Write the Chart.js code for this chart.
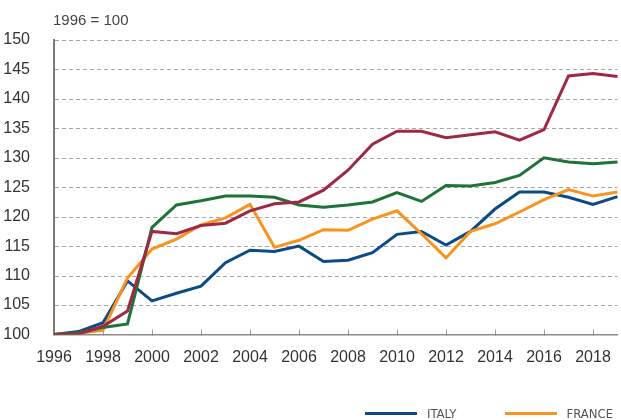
<!DOCTYPE html>
<html lang="en">
<head>
<meta charset="UTF-8">
<title>Index 1996 = 100</title>
<script src="https://cdn.jsdelivr.net/npm/chart.js"></script>
<style>
  html, body { margin: 0; padding: 0; background: #ffffff; overflow: hidden; }
  #wrap { position: relative; width: 621px; height: 420px; }
  #legenda {
    position: absolute; left: 365px; top: 405px;
    display: flex; gap: 48px;
    font-family: "DejaVu Sans Condensed", "Liberation Sans Narrow", sans-serif;
    font-size: 13px; color: #555555;
  }
  #legenda .item { display: flex; align-items: center; height: 17px; line-height: 17px; }
  #legenda .linha { display: inline-block; width: 52px; height: 3px; margin-right: 10px; }
</style>
<script>
  // tick labels / categories
  const anos = ['1996', '1997', '1998', '1999', '2000', '2001', '2002', '2003', '2004', '2005', '2006', '2007',
                '2008', '2009', '2010', '2011', '2012', '2013', '2014', '2015', '2016', '2017', '2018', '2019'];

  // series (1996 = 100)
  const italia = [100, 100.5, 102.0, 109.1, 105.7, 107.0, 108.2, 112.2, 114.3, 114.1, 115.0, 112.4,
                  112.6, 113.9, 117.0, 117.5, 115.2, 117.5, 121.3, 124.2, 124.2, 123.3, 122.1, 123.4];
  const franca = [100, 100.2, 100.7, 109.6, 114.5, 116.2, 118.6, 119.8, 122.1, 114.8, 116.0, 117.8,
                  117.7, 119.6, 121.0, 117.1, 113.0, 117.5, 118.8, 120.8, 122.9, 124.6, 123.5, 124.2];
  const serieVerde = [100, 100.3, 101.2, 101.8, 118.2, 122.0, 122.7, 123.5, 123.5, 123.3, 122.0, 121.6,
                      122.0, 122.5, 124.1, 122.6, 125.3, 125.2, 125.8, 127.0, 130.0, 129.3, 129.0, 129.3];
  const serieVermelha = [100, 100.1, 101.4, 104.0, 117.5, 117.1, 118.5, 118.9, 121.0, 122.2, 122.5, 124.5,
                         127.9, 132.3, 134.5, 134.5, 133.4, 133.9, 134.4, 133.0, 134.8, 143.9, 144.3, 143.8];

  const yMin = 100;
  const yMax = 150;
  const yPasso = 5;
  const rotuloBase = '1996 = 100';
  const legendaVisivel = ['ITALY', 'FRANCE'];

  const fonteEixo = "'Liberation Sans', Arial, sans-serif";

  // dashed horizontal grid, placed with the y scale's own ticks
  const pluginGrade = {
    id: 'gradeTracejada',
    beforeDatasetsDraw(chart) {
      const ctx = chart.ctx;
      const a = chart.chartArea;
      const y = chart.scales.y;
      ctx.save();
      ctx.strokeStyle = '#a6a6a6';
      ctx.lineWidth = 1;
      ctx.setLineDash([4, 3]);
      y.ticks.forEach(t => {
        if (t.value === yMin) return;
        const py = Math.round(y.getPixelForValue(t.value)) + 0.5;
        ctx.beginPath();
        ctx.moveTo(a.left + 1, py);
        ctx.lineTo(a.right, py);
        ctx.stroke();
      });
      ctx.restore();
    }
  };

  // caption above the axis
  const pluginRotulo = {
    id: 'rotuloBase',
    afterDraw(chart) {
      const ctx = chart.ctx;
      ctx.save();
      ctx.font = "15px " + fonteEixo;
      ctx.fillStyle = '#444444';
      ctx.textAlign = 'left';
      ctx.textBaseline = 'middle';
      ctx.fillText(rotuloBase, chart.chartArea.left - 1, 21);
      ctx.restore();
    }
  };

  function desenharGrafico() {
    // first dataset is drawn on top
    const series = [
      { label: 'SERIES 4', data: serieVermelha, borderColor: '#9d2945', borderWidth: 3, pointRadius: 0 },
      { label: 'SERIES 3', data: serieVerde, borderColor: '#1f7338', borderWidth: 3, pointRadius: 0 },
      { label: 'FRANCE', data: franca, borderColor: '#f7931e', borderWidth: 3, pointRadius: 0 },
      { label: 'ITALY', data: italia, borderColor: '#0d4a86', borderWidth: 3, pointRadius: 0 }
    ];

    new Chart(document.getElementById('grafico'), {
      type: 'line',
      data: { labels: anos, datasets: series },
      options: {
        responsive: false,
        animation: false,
        layout: { padding: { top: 40, right: 3.5, left: 0, bottom: 55.5 } },
        plugins: { legend: { display: false }, tooltip: { enabled: false } },
        scales: {
          x: {
            type: 'category',
            offset: false,
            afterFit: s => { s.height = 30; s.paddingLeft = 0; s.paddingRight = 0; },
            border: { color: '#8a8a8a', width: 1.5 },
            grid: {
              drawOnChartArea: false,
              tickLength: -5,
              color: c => (c.index % 2 === 0 ? '#9a9a9a' : 'rgba(0,0,0,0)')
            },
            ticks: {
              autoSkip: false,
              maxRotation: 0,
              padding: 18,
              color: '#333333',
              font: { family: fonteEixo, size: 16 },
              callback: (v, i) => (i % 2 === 0 ? anos[i] : '')
            }
          },
          y: {
            type: 'linear',
            min: yMin,
            max: yMax,
            afterFit: s => { s.width = 54; },
            border: { display: true, color: '#7a7a7a', width: 2 },
            grid: { display: false },
            ticks: {
              stepSize: yPasso,
              padding: 16,
              color: '#333333',
              font: { family: fonteEixo, size: 16 }
            }
          }
        }
      },
      plugins: [pluginGrade, pluginRotulo]
    });

    // legend (only the two series named in legendaVisivel)
    const caixa = document.getElementById('legenda');
    legendaVisivel.forEach(nome => {
      const s = series.find(d => d.label === nome);
      const el = document.createElement('div');
      el.className = 'item';
      const linha = document.createElement('span');
      linha.className = 'linha';
      linha.style.background = s.borderColor;
      el.appendChild(linha);
      el.appendChild(document.createTextNode(s.label));
      caixa.appendChild(el);
    });
  }
</script>
</head>
<body onload="desenharGrafico()">
  <div id="wrap">
    <canvas id="grafico" width="621" height="420"></canvas>
    <div id="legenda"></div>
  </div>
</body>
</html>
